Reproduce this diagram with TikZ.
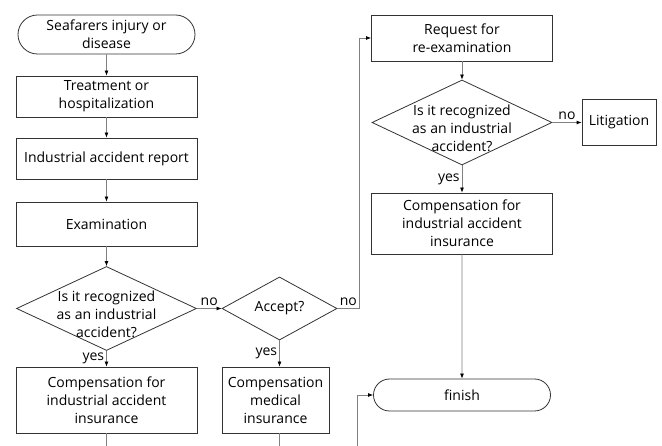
\documentclass[tikz,border=0pt]{standalone}
\usepackage{fontspec}
\setmainfont{Open Sans}
\usetikzlibrary{positioning,shapes.geometric,shapes.misc,arrows.meta}

\begin{document}
\begin{tikzpicture}[x=1pt,y=1pt,on grid,
    font=\fontsize{14}{18}\selectfont,
    every node/.style={align=center,inner sep=2pt},
    box/.style={draw=black!80,line width=0.8pt,rectangle,minimum width=181pt,minimum height=41pt},
    term/.style={draw=black!80,line width=0.8pt,rounded rectangle,minimum width=181pt,minimum height=39pt},
    decision/.style={draw=black!80,line width=0.8pt,diamond,minimum width=180pt,minimum height=84pt,inner sep=0pt},
    flow/.style={draw=black!50,line width=0.8pt,-{Latex[length=5pt,width=4pt,color=black]}},
    plain/.style={draw=black!50,line width=0.8pt}]
    \node[term] (start) {Seafarers injury or\\disease};
    \node[box] (treat) [below=62pt of start] {Treatment or\\hospitalization};
    \node[box] (report) [below=62pt of treat] {Industrial accident report};
    \node[box,minimum height=44pt] (exam) [below=65.5pt of report] {Examination};
    \node[decision,label={[yshift=-6pt]center:Is it recognized\\as an industrial\\accident?}] (check) [below=84.5pt of exam] {};
    \node[box,minimum height=66pt] (comp) [below=91.5pt of check] {Compensation for\\industrial accident\\insurance};
    \node[decision,minimum width=115pt,minimum height=53pt] (accept) [right=173pt of check] {Accept?};
    \node[box,minimum width=107pt,minimum height=66pt] (medical) [below=91.5pt of accept,xshift=-4pt] {Compensation\\medical\\insurance};
    \node[box,minimum height=46pt] (request) [right=355.5pt of start,yshift=-3.5pt] {Request for\\re-examination};
    \node[decision,minimum height=85pt,label={[yshift=-6pt]center:Is it recognized\\as an industrial\\accident?}] (recheck) [below=84.5pt of request] {};
    \node[box,minimum width=74pt,minimum height=46pt] (litigation) [right=157pt of recheck] {Litigation};
    \node[box,minimum height=61pt] (comp2) [below=101pt of recheck] {Compensation for\\industrial accident\\insurance};
    \node[term,minimum height=32pt] (finish) [below=171.5pt of comp2] {finish};
    \coordinate [below=30pt of comp.south] (compout);
    \coordinate [below=30pt of medical.south -| accept.south] (medout);
    \coordinate [below left=70pt and 16pt of finish.west] (loopin);
    \useasboundingbox ([xshift=-106.5pt,yshift=34.5pt]start.center) rectangle ++(662,-446);
    \path[flow]
        (start) edge (treat)
        (treat) edge (report)
        (report) edge (exam)
        (exam) edge (check)
        (check) edge node[left] {yes} (comp)
                edge node[above] {no} (accept)
        (request) edge (recheck)
        (recheck) edge node[above] {no} (litigation)
                  edge node[left] {yes} (comp2)
        (comp2) edge (finish);
    \draw[flow] (accept.south) -- node[left] {yes} (accept.south |- medical.north);
    \draw[flow] (accept.east) -- node[above] {no} ++(22,0) |- (request.west);
    \draw[flow] (loopin) |- (finish.west);
    \draw[plain] (comp) -- (compout);
    \draw[plain] (accept.south |- medical.south) -- (medout);
\end{tikzpicture}
\end{document}
